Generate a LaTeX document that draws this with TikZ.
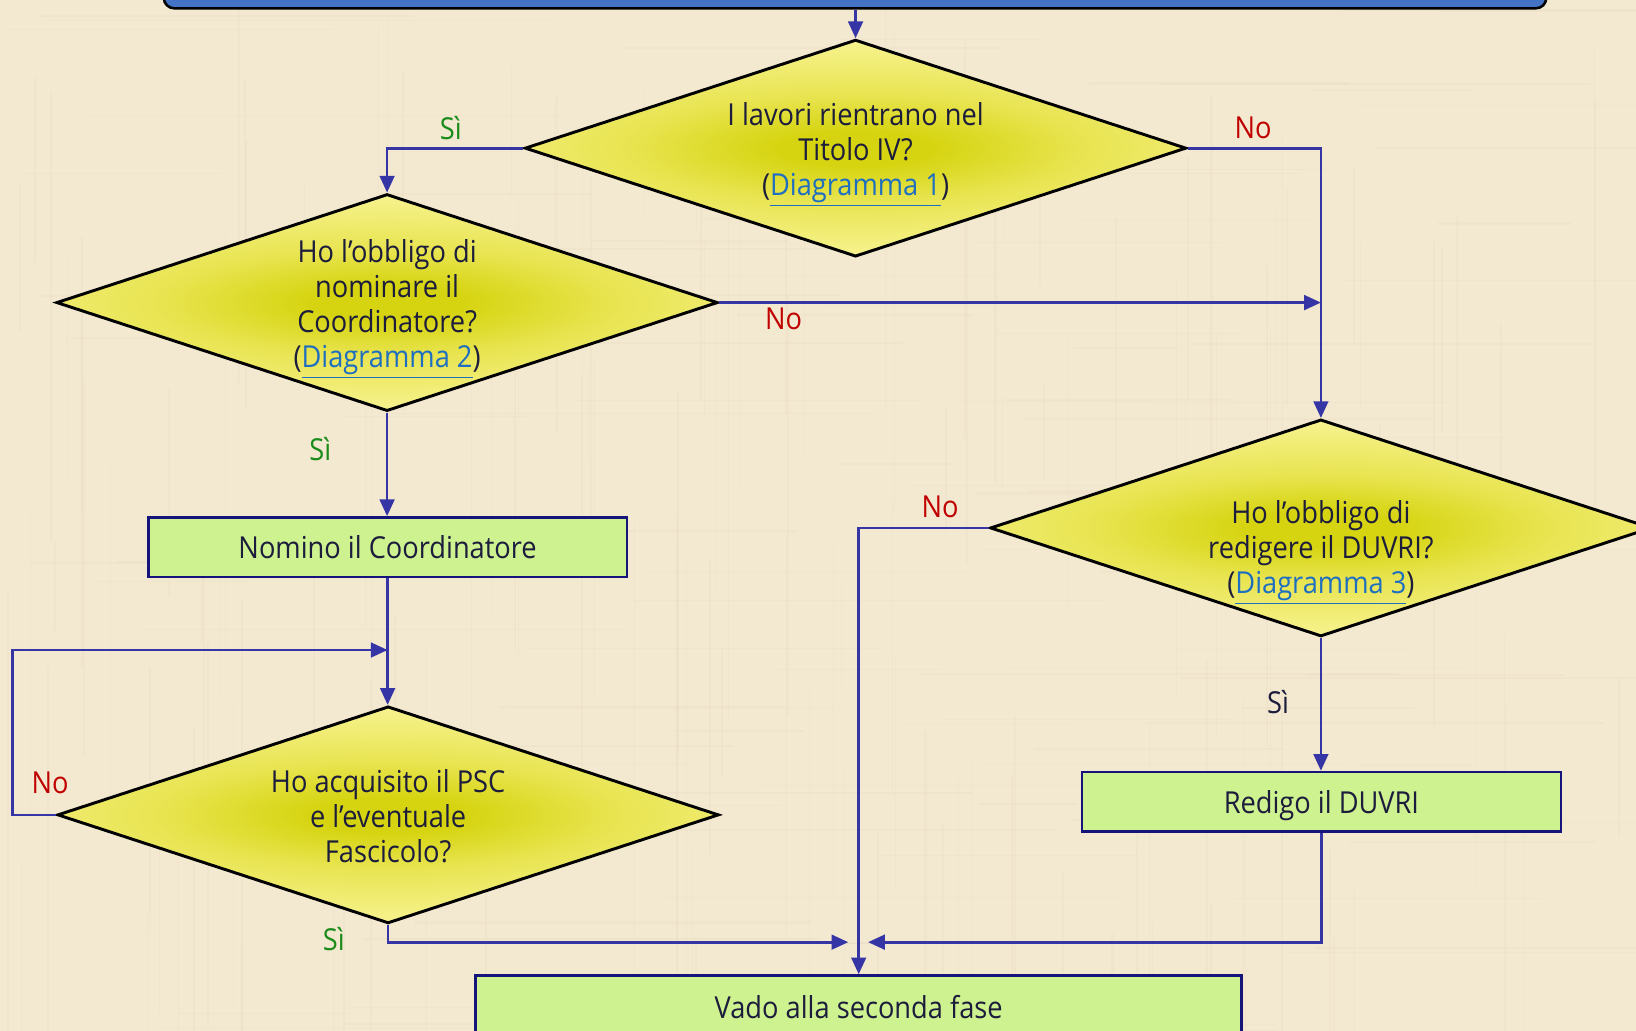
\documentclass[tikz,border=0pt]{standalone}
\usepackage{fontspec}
\setmainfont{Open Sans}[FakeStretch=0.9]
\usetikzlibrary{shapes.geometric,arrows.meta}

\definecolor{paper}{HTML}{F3E8D0}
\definecolor{grain}{HTML}{C8B48C}
\definecolor{ink}{HTML}{1C1C3C}
\definecolor{wire}{HTML}{3535A5}
\definecolor{boxfill}{HTML}{CDF28F}
\definecolor{boxline}{HTML}{14147A}
\definecolor{barfill}{HTML}{4472C4}
\definecolor{linkblue}{HTML}{1F6FC0}
\definecolor{yesgreen}{HTML}{1A8C1A}
\definecolor{nored}{HTML}{C00000}
\definecolor{ycore}{HTML}{D6D410}
\definecolor{ymid}{HTML}{E8E450}
\definecolor{yedge}{HTML}{F6F28C}

% glow in the middle of each decision
\pgfdeclareradialshading{decshade}{\pgfpoint{0bp}{0bp}}{%
  color(0bp)=(ycore); color(3.5bp)=(ycore); color(10.5bp)=(ymid);
  color(21bp)=(yedge); color(50bp)=(yedge)}

\newcommand{\linkref}[1]{{\color{linkblue}\underline{#1}}}

\tikzset{
  basefont/.style={font=\fontsize{14.5}{16.75}\selectfont, text=ink},
  decision/.style={diamond, shape aspect=3.04, draw=black, line width=1.4pt,
    fill=yedge, inner sep=0pt, minimum width=317pt, minimum height=104pt,
    path picture={\shade[shading=decshade]
      (path picture bounding box.center) ellipse [x radius=258pt, y radius=60pt];}},
  dtext/.style={basefont, align=center, inner sep=0pt},
  action/.style={rectangle, draw=boxline, line width=1.3pt, fill=boxfill,
    minimum width=229.5pt, minimum height=28.5pt, basefont, inner sep=0pt,
    text depth=0pt},
  wireline/.style={draw=wire, line width=1.3pt},
  flow/.style={wireline, -{Triangle[length=8pt,width=7pt]}},
  yes/.style={basefont, text=yesgreen},
  yesdark/.style={basefont, text=ink},
  no/.style={basefont, text=nored},
}

\begin{document}
\begin{tikzpicture}[x=0.5pt,y=-0.5pt]
  % page and paper background
  \useasboundingbox (0,0) rectangle (1568,988);
  \fill[paper] (0,0) rectangle (1568,988);
  % faint paper grain
  \pgfmathsetseed{4711}
  \begin{scope}
    \clip (0,0) rectangle (1568,988);
    \foreach \i in {1,...,140} {
      \pgfmathsetmacro{\gx}{random(0,1568)}
      \pgfmathsetmacro{\gw}{0.3+2*rnd}
      \pgfmathsetmacro{\gy}{random(0,900)}
      \pgfmathsetmacro{\gl}{random(80,500)}
      \fill[grain, opacity=0.06] (\gx,\gy) rectangle ++(\gw,\gl);
    }
    \foreach \i in {1,...,110} {
      \pgfmathsetmacro{\gy}{random(0,988)}
      \pgfmathsetmacro{\gw}{0.3+2*rnd}
      \pgfmathsetmacro{\gx}{random(0,1400)}
      \pgfmathsetmacro{\gl}{random(80,500)}
      \fill[grain, opacity=0.05] (\gx,\gy) rectangle ++(\gl,\gw);
    }
  \end{scope}

  % banner at the top
  \node[rectangle, rounded corners=5pt, draw=black, line width=1.2pt,
        fill=barfill, minimum width=662.5pt, minimum height=25pt, inner sep=0pt]
        (bar) at (819.5,-17) {};

  % decisions
  \node[decision] (d1) at (820,142) {};
  \node[dtext] (d1t) at (820,148)
    {I lavori rientrano nel\\Titolo IV?\\(\linkref{Diagramma 1})};
  \node[decision] (d2) at (371,290) {};
  \node[dtext] (d2t) at (371,296)
    {Ho l’obbligo di\\nominare il\\Coordinatore?\\(\linkref{Diagramma 2})};
  \node[decision] (d3) at (1266,506) {};
  \node[dtext] (d3t) at (1266,530)
    {Ho l’obbligo di\\redigere il DUVRI?\\(\linkref{Diagramma 3})};
  \node[decision] (d4) at (372,781) {};
  \node[dtext] (d4t) at (372,782)
    {Ho acquisito il PSC\\e l’eventuale\\Fascicolo?};

  % actions
  \node[action] (b1) at (371.5,524.5) {Nomino il Coordinatore};
  \node[action] (b2) at (1266.5,768.5) {Redigo il DUVRI};
  \node[action, minimum width=367pt, minimum height=30pt] (fin) at (823,965)
    {Vado alla seconda fase};

  % helper points for the loop and the merge
  \coordinate (loopc) at (12,623);
  \coordinate (loopj) at (371.5,623);
  \coordinate (mergel) at (813,903);
  \coordinate (merger) at (832,903);

  % connectors
  \draw[flow] (bar.south -| d1.north) -- (d1.north);
  \draw[flow] (d1.west) -| (d2.north);
  \draw[flow] (d1.east) -| (d3.north);
  \draw[flow] (d2.east) -- (d2.east -| d3.north);
  \draw[flow] (d2.south) -- (b1.north -| d2.south);
  \draw[flow] (b1.south) -- (d4.north -| b1.south);
  \draw[flow] (d4.west) -| (loopc) -- (loopj);
  \draw[flow] (d4.south) |- (mergel);
  \draw[flow] (d3.west) -| (fin.north);
  \draw[flow] (d3.south) -- (b2.north -| d3.south);
  \draw[flow] (b2.south) |- (merger);

  % branch labels
  \node[yes] (l1) at (432,123) {Sì};
  \node[no] (l2) at (1201,123) {No};
  \node[no] (l3) at (751,306) {No};
  \node[yes] (l4) at (307,430) {Sì};
  \node[no] (l5) at (48,750) {No};
  \node[yes] (l6) at (320,900) {Sì};
  \node[no] (l7) at (901,486) {No};
  \node[yesdark] (l8) at (1225,673) {Sì};
\end{tikzpicture}
\end{document}
